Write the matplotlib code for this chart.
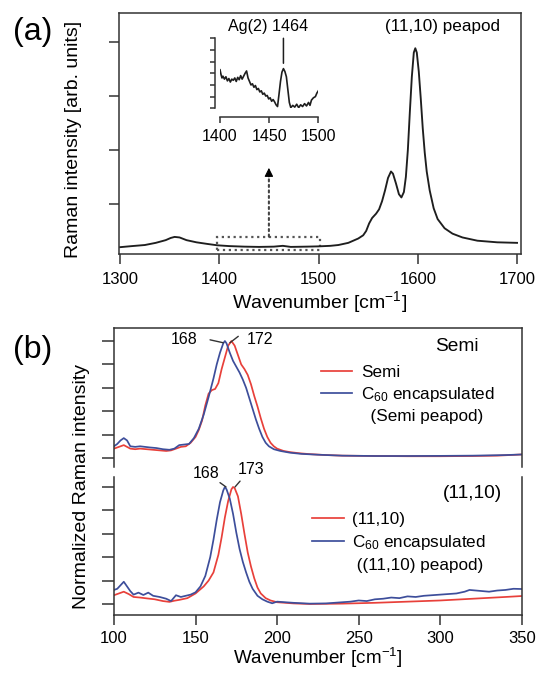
import numpy as np
import matplotlib
matplotlib.use("Agg")
import matplotlib.pyplot as plt
from matplotlib.lines import Line2D
from matplotlib.patches import Rectangle

plt.rcParams['font.family'] = ['Liberation Sans', 'DejaVu Sans']
plt.rcParams['mathtext.fontset'] = 'custom'
plt.rcParams['mathtext.rm'] = 'Liberation Sans'
plt.rcParams['mathtext.it'] = 'Liberation Sans'

# ---- (a) peapod G-band spectrum ----
wn_a = [1300, 1312, 1325, 1336, 1346, 1351, 1355, 1360, 1367, 1377, 1388, 1398,
        1410, 1425, 1440, 1455, 1464, 1472, 1488, 1500, 1512, 1520, 1530, 1540,
        1545, 1548, 1551, 1554, 1558, 1561, 1564, 1567, 1570, 1573, 1575, 1578,
        1581, 1583.5, 1586, 1588, 1590, 1592, 1594, 1596, 1597.5, 1599, 1601,
        1603, 1605, 1607, 1609, 1612, 1616, 1620, 1627, 1635, 1645, 1660, 1680, 1700]
int_a = [0.20, 0.22, 0.24, 0.28, 0.33, 0.37, 0.39, 0.38, 0.33, 0.29, 0.26, 0.235,
         0.22, 0.21, 0.205, 0.21, 0.225, 0.205, 0.21, 0.215, 0.225, 0.24, 0.28, 0.36,
         0.42, 0.50, 0.64, 0.74, 0.82, 0.90, 1.05, 1.25, 1.48, 1.60, 1.56, 1.38,
         1.18, 1.12, 1.22, 1.5, 2.0, 2.7, 3.35, 3.8, 3.88, 3.8, 3.45,
         2.95, 2.4, 1.95, 1.6, 1.25, 0.92, 0.72, 0.55, 0.45, 0.38, 0.32, 0.29, 0.28]

# inset: Ag(2) region
wn_in = [1400, 1401, 1402, 1403, 1404.5, 1406, 1407.5, 1409, 1410.5, 1412, 1413.5,
         1415, 1416.5, 1418, 1419.5, 1421, 1422.5, 1424, 1425.5, 1427, 1428.5, 1430,
         1431.5, 1433, 1434.5, 1436, 1437.5, 1439, 1440.5, 1442, 1443.5, 1445, 1446.5,
         1448, 1449.5, 1451, 1452.5, 1454, 1455.5, 1457, 1458.5, 1460, 1461.5, 1463,
         1464.5, 1466, 1467.5, 1469, 1470.5, 1472, 1474, 1476, 1478, 1480, 1482, 1484,
         1486, 1488, 1490, 1491.5, 1493, 1495, 1497, 1498.5, 1500]
int_in = [3.3, 2.9, 2.6, 2.75, 2.5, 2.7, 2.35, 2.55, 2.25, 2.5, 2.4,
          2.6, 2.3, 2.65, 2.45, 2.8, 2.5, 2.75, 3.0, 3.2, 2.6, 2.3,
          2.0, 2.1, 1.8, 1.95, 1.6, 1.7, 1.4, 1.5, 1.2, 1.3, 1.05,
          1.1, 0.8, 0.9, 0.6, 0.75, 0.55, 0.3, 0.15, 1.2, 2.3, 3.1,
          3.4, 3.15, 2.7, 1.6, 0.5, 0.05, 0.25, 0.1, 0.35, 0.05, 0.3, 0.15,
          0.4, 0.2, 0.5, 0.25, 0.7, 0.9, 1.0, 1.3, 1.5]

# ---- (b) RBM spectra ----
wn_semi = [100, 102, 104, 106, 108, 110, 113, 116, 120, 124, 128, 132, 135, 138, 141,
           144, 147, 150, 152, 154, 156, 158, 160, 162, 164, 166, 168, 170, 172, 174,
           176, 178, 180, 182, 184, 186, 188, 190, 192, 194, 196, 198, 200, 204, 208,
           214, 220, 230, 240, 260, 280, 300, 320, 335, 350]
semi = [0.08, 0.09, 0.10, 0.11, 0.095, 0.08, 0.075, 0.08, 0.075, 0.07, 0.065, 0.06,
        0.065, 0.08, 0.095, 0.10, 0.13, 0.18, 0.24, 0.32, 0.45, 0.55, 0.58, 0.59,
        0.64, 0.76, 0.86, 0.96, 1.0, 0.96, 0.88, 0.80, 0.76, 0.71, 0.63, 0.53, 0.44,
        0.34, 0.25, 0.18, 0.13, 0.10, 0.08, 0.06, 0.05, 0.04, 0.033, 0.025, 0.02,
        0.017, 0.015, 0.015, 0.017, 0.02, 0.03]

wn_semi_pp = [100, 102, 104, 106, 108, 110, 113, 116, 119, 122, 126, 130, 134, 137,
              140, 143, 146, 149, 152, 155, 158, 161, 163, 165, 167, 168, 169, 171,
              173, 175, 177, 179, 181, 183, 185, 187, 189, 191, 193, 195, 198, 202,
              208, 215, 225, 240, 260, 280, 300, 320, 340, 350]
semi_pp = [0.10, 0.12, 0.15, 0.17, 0.15, 0.10, 0.095, 0.10, 0.095, 0.09, 0.085, 0.075,
           0.07, 0.08, 0.11, 0.115, 0.12, 0.17, 0.25, 0.37, 0.52, 0.68, 0.80, 0.90,
           0.98, 1.0, 0.98, 0.90, 0.83, 0.78, 0.73, 0.67, 0.60, 0.51, 0.42, 0.33, 0.25,
           0.18, 0.13, 0.10, 0.075, 0.06, 0.045, 0.035, 0.028, 0.02, 0.017, 0.017,
           0.018, 0.02, 0.025, 0.03]

wn_1110 = [100, 103, 106, 109, 112, 116, 120, 125, 130, 134, 137, 140, 145, 150, 155,
           158, 161, 164, 166, 168, 170, 172, 173, 174, 176, 178, 180, 182, 184, 186,
           188, 190, 193, 196, 200, 210, 220, 240, 260, 280, 300, 320, 340, 350]
t1110 = [0.075, 0.09, 0.105, 0.085, 0.06, 0.055, 0.048, 0.04, 0.025, 0.018, 0.028,
         0.035, 0.05, 0.09, 0.15, 0.2, 0.27, 0.42, 0.57, 0.74, 0.88, 0.98, 1.0, 0.99,
         0.92, 0.77, 0.6, 0.44, 0.32, 0.22, 0.14, 0.09, 0.05, 0.03, 0.015, 0.005, 0.0,
         0.003, 0.01, 0.02, 0.03, 0.045, 0.06, 0.068]

wn_1110_pp = [100, 102, 104, 106, 108, 110, 112, 115, 118, 121, 124, 128, 132, 135,
              138, 141, 144, 147, 150, 153, 156, 159, 161, 163, 165, 167, 168, 169,
              171, 173, 175, 177, 179, 181, 183, 185, 188, 191, 194, 197, 200, 205,
              210, 220, 230, 240, 245, 250, 255, 260, 265, 270, 275, 280, 285, 290,
              295, 300, 305, 310, 315, 318, 322, 326, 330, 335, 340, 345, 350]
t1110_pp = [0.12, 0.13, 0.16, 0.19, 0.15, 0.11, 0.08, 0.097, 0.077, 0.097, 0.07, 0.06,
            0.045, 0.025, 0.075, 0.06, 0.07, 0.08, 0.10, 0.15, 0.24, 0.40, 0.55, 0.72,
            0.87, 0.97, 1.0, 0.98, 0.90, 0.77, 0.61, 0.47, 0.36, 0.27, 0.19, 0.13, 0.07,
            0.04, 0.02, 0.006, 0.02, 0.015, 0.01, 0.003, 0.005, 0.015, 0.02, 0.03, 0.025,
            0.04, 0.045, 0.055, 0.05, 0.065, 0.06, 0.07, 0.075, 0.08, 0.085, 0.09, 0.105,
            0.12, 0.115, 0.11, 0.105, 0.115, 0.12, 0.13, 0.128]

RED = '#e8403a'
BLUE = '#3d4e9b'
INK = '#1e1e1e'
FS_TICK = 12
FS_LAB = 14

fig = plt.figure(figsize=(5.39, 6.73), dpi=100)


def style_box(ax, show_bottom=True, show_top=True):
    for s in ax.spines.values():
        s.set_linewidth(1.1)
        s.set_color('#333333')
    ax.spines['bottom'].set_visible(show_bottom)
    ax.spines['top'].set_visible(show_top)
    ax.tick_params(axis='y', direction='out', length=8.5, width=1.1,
                   color='#333333', labelleft=False, right=False)
    ax.tick_params(axis='x', direction='out', length=7.2, width=1.1,
                   color='#333333', labelsize=FS_TICK, pad=6, top=False)


# ---------- panel (a) ----------
ax_a = fig.add_axes([0.2199, 0.6226, 0.7458, 0.3585])
ax_a.plot(wn_a, int_a, color=INK, lw=1.35)
ax_a.set_xlim(1298.5, 1703.5)
ax_a.set_ylim(0.074, 4.537)
ax_a.set_xticks([1300, 1400, 1500, 1600, 1700])
ax_a.set_yticks([1, 2, 3, 4])
style_box(ax_a)
ax_a.tick_params(axis='y', length=7.2)
ax_a.text(1625, 4.28, '(11,10) peapod', ha='center', va='center', fontsize=12.3)

zoom_lo, zoom_hi = 1400, 1500
ax_a.add_patch(Rectangle((zoom_lo - 2.6, 0.148), zoom_hi - zoom_lo + 3.8, 0.247,
                         fill=False, ls=':', lw=1.6, ec='#555555'))
ax_a.annotate('', xy=(1450, 1.62), xytext=(1450, 0.395),
              arrowprops=dict(arrowstyle='-', ls=':', lw=1.5, color='#444444',
                              shrinkA=0, shrinkB=0))
ax_a.annotate('', xy=(1450, 1.667), xytext=(1450, 1.50),
              arrowprops=dict(arrowstyle='-|>', lw=0.8, color='black',
                              mutation_scale=13, shrinkA=0, shrinkB=0))

fig.text(0.0607, 0.953, '(a)', fontsize=23, ha='center', va='center')
fig.text(0.137, 0.7935, 'Raman intensity [arb. units]', rotation=90,
         fontsize=FS_LAB, ha='center', va='center')
fig.text(0.5937, 0.5517, 'Wavenumber [cm$^{-1}$]', fontsize=FS_LAB,
         ha='center', va='center')

# inset
ax_in = fig.add_axes([0.4082, 0.8391, 0.1824, 0.104])
ax_in.patch.set_alpha(0)
ax_in.plot(wn_in, int_in, color=INK, lw=1.2)
ax_in.set_xlim(zoom_lo, zoom_hi)
ax_in.set_ylim(0, 6)
ax_in.set_yticks(range(7))
ax_in.set_xticks([1400, 1450, 1500])
for s in ['top', 'right']:
    ax_in.spines[s].set_visible(False)
ax_in.spines['left'].set_position(('outward', 3.6))
ax_in.spines['bottom'].set_position(('outward', 6))
for s in ['left', 'bottom']:
    ax_in.spines[s].set_linewidth(1.1)
    ax_in.spines[s].set_color('#333333')
ax_in.tick_params(axis='y', direction='out', length=3.5, width=1.1,
                  labelleft=False, color='#333333')
ax_in.tick_params(axis='x', direction='out', length=4, width=1.1,
                  labelsize=11.5, pad=5, color='#333333')
ax_in.annotate('', xy=(1464.5, 3.86), xytext=(1464.5, 6.0), annotation_clip=False,
               arrowprops=dict(arrowstyle='-', lw=1.1, color=INK,
                               shrinkA=0, shrinkB=0))
ax_in.text(1448.8, 7.0, 'Ag(2) 1464', ha='center', va='center', fontsize=11.6)

# ---------- panel (b) ----------
ax_u = fig.add_axes([0.2115, 0.3061, 0.7564, 0.2065])
ax_l = fig.add_axes([0.2115, 0.0862, 0.7564, 0.2050])

ax_u.plot(wn_semi, semi, color=RED, lw=1.25, label='Semi')
ax_u.plot(wn_semi_pp, semi_pp, color=BLUE, lw=1.25, label='C$_{60}$ encapsulated')
ax_l.plot(wn_1110, t1110, color=RED, lw=1.25, label='(11,10)')
ax_l.plot(wn_1110_pp, t1110_pp, color=BLUE, lw=1.25, label='C$_{60}$ encapsulated')

for ax in (ax_u, ax_l):
    ax.set_xlim(100, 350)
    ax.set_yticks(np.arange(0, 1.01, 0.2))
    ax.patch.set_alpha(0)
ax_u.set_ylim(-0.077, 1.111)
ax_l.set_ylim(-0.094, 1.085)
ax_l.set_xticks([100, 150, 200, 250, 300, 350])
style_box(ax_u, show_bottom=False, show_top=True)
style_box(ax_l, show_bottom=True, show_top=False)
ax_u.tick_params(axis='x', bottom=False, labelbottom=False)
ax_l.tick_params(axis='x', pad=4)

# peak labels
lead = dict(arrowstyle='-', lw=1.0, color='#333333', shrinkA=0, shrinkB=0)
ax_u.text(142.9, 1.01, '168', ha='center', va='center', fontsize=11.5)
ax_u.annotate('', xy=(167.0, 0.985), xytext=(158.9, 1.01), arrowprops=lead)
ax_u.text(181.4, 1.01, '172', ha='left', va='center', fontsize=11.5)
ax_u.annotate('', xy=(171.1, 0.985), xytext=(176.2, 1.04), arrowprops=lead)
ax_l.text(156.3, 1.115, '168', ha='center', va='center', fontsize=11.5)
ax_l.annotate('', xy=(168.7, 1.0), xytext=(165.0, 1.037), arrowprops=lead,
              annotation_clip=False)
ax_l.text(175.6, 1.15, '173', ha='left', va='center', fontsize=11.5)
ax_l.annotate('', xy=(174.2, 1.0), xytext=(177.3, 1.05), arrowprops=lead,
              annotation_clip=False)

ax_u.text(310.3, 0.95, 'Semi', ha='center', va='center', fontsize=13.8)
ax_l.text(320, 0.946, '(11,10)', ha='center', va='center', fontsize=13.8)

blank = Line2D([], [], color='none')
h_u, l_u = ax_u.get_legend_handles_labels()
ax_u.legend(h_u + [blank], l_u + ['  (Semi peapod)'], loc='upper left',
            bbox_to_anchor=(0.507, 0.735), frameon=False, fontsize=12.3,
            handlelength=1.86, handletextpad=0.5, labelspacing=0.3,
            borderpad=0, borderaxespad=0)
h_l, l_l = ax_l.get_legend_handles_labels()
ax_l.legend(h_l + [blank], l_l + [' ((11,10) peapod)'], loc='upper left',
            bbox_to_anchor=(0.4857, 0.745), frameon=False, fontsize=12.3,
            handlelength=1.86, handletextpad=0.5, labelspacing=0.35,
            borderpad=0, borderaxespad=0)

fig.text(0.0612, 0.48, '(b)', fontsize=23, ha='center', va='center')
fig.text(0.152, 0.2764, 'Normalized Raman intensity', rotation=90,
         fontsize=FS_LAB, ha='center', va='center')
fig.text(0.589, 0.004, 'Wavenumber [cm$^{-1}$]', fontsize=13.6,
         ha='center', va='bottom')

fig.savefig('out.png', dpi=100)
